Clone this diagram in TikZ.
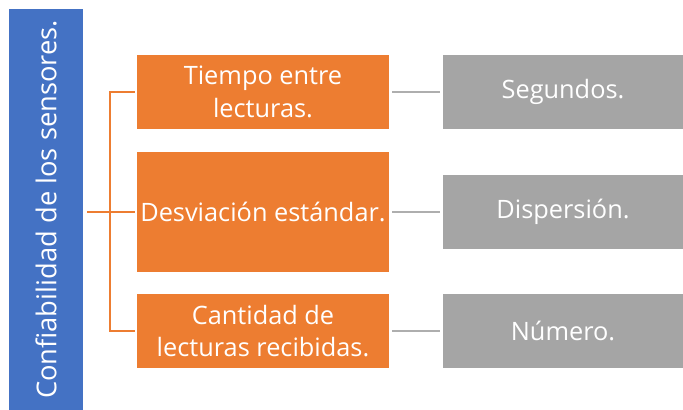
\documentclass[tikz,border=0pt]{standalone}
\usepackage{fontspec}
\setmainfont{Open Sans}
\usetikzlibrary{calc}
\definecolor{azul}{HTML}{4472C4}
\definecolor{naranja}{HTML}{ED7D31}
\definecolor{gris}{HTML}{A5A5A5}
\tikzset{%
        x = 0.75pt,
        y = -0.75pt,
        font = \fontsize{19pt}{24.5pt}\selectfont
}
\tikzstyle{raiz}=[
    fill = azul,
    text = white,
    rotate = 90,
    font = \fontsize{20.5pt}{24.5pt}\selectfont,
    minimum width = 300.75pt,
    minimum height = 55.5pt,
    inner sep = 0pt
]
\tikzstyle{rama}=[
    fill = naranja,
    text = white,
    align = center,
    minimum width = 189pt,
    inner sep = 0pt
]
\tikzstyle{hoja}=[
    fill = gris,
    text = white,
    minimum width = 180pt,
    minimum height = 55.5pt,
    inner sep = 0pt
]
\tikzstyle{lineaN}=[
    draw = naranja,
    line width = 1.5pt
]
\tikzstyle{lineaG}=[
    draw = gris!90!white,
    line width = 1.5pt
]

\begin{document}
\begin{tikzpicture}
        \useasboundingbox (0,0) rectangle (683,410);
        \node[raiz] (0) at (46,209.5) {Confiabilidad de los sensores.};
        \node[rama, minimum height = 55.5pt] (1) at (263,92) {Tiempo entre\\lecturas.};
        \node[rama, minimum height = 90pt] (2) at (263,212) {Desviación estándar.};
        \node[rama, minimum height = 55.5pt] (3) at (263,331) {Cantidad de\\lecturas recibidas.};
        \node[hoja] (4) at (563,92) {Segundos.};
        \node[hoja] (5) at (563,212) {Dispersión.};
        \node[hoja] (6) at (563,331) {Número.};
        \coordinate (c) at (110,212);
        % arbol naranja
        \draw[lineaN] (0.south |- c) ++(4,0) -- (c);
        \draw[lineaN] (c) |- ($(1.west)+(-2,0)$);
        \draw[lineaN] (c) -- ($(2.west)+(-2,0)$);
        \draw[lineaN] (c) |- ($(3.west)+(-2,0)$);
        % lineas grises
        \draw[lineaG] ($(1.east)+(3,0)$) -- ($(4.west)+(-3,0)$);
        \draw[lineaG] ($(2.east)+(3,0)$) -- ($(5.west)+(-3,0)$);
        \draw[lineaG] ($(3.east)+(3,0)$) -- ($(6.west)+(-3,0)$);
    \end{tikzpicture}
\end{document}
